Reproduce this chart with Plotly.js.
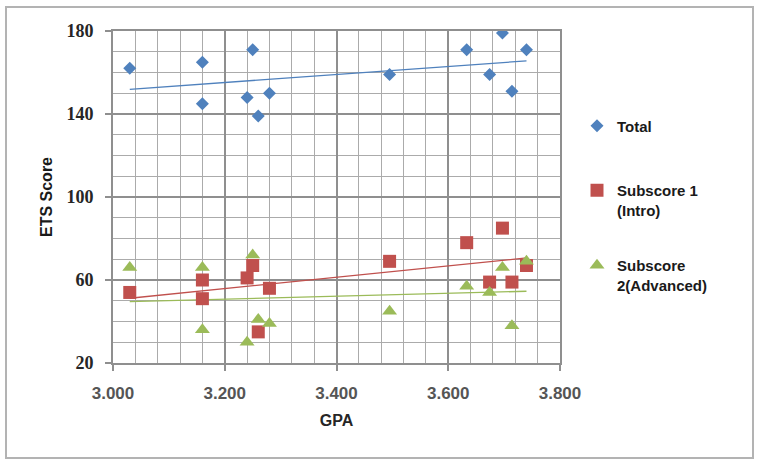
<!DOCTYPE html>
<html>
<head>
<meta charset="utf-8">
<script src="https://cdn.plot.ly/plotly-3.0.1.min.js"></script>
<style>
  html, body { margin: 0; padding: 0; background: #ffffff; }
  #chart { width: 759px; height: 460px; }
</style>
</head>
<body>
<div id="chart"></div>
<script>
// Student GPA and ETS scores (one entry per student)
const gpa      = [3.03, 3.16, 3.16, 3.25, 3.24, 3.26, 3.28, 3.495, 3.633, 3.697, 3.74, 3.674, 3.714];
const total    = [162, 165, 145, 171, 148, 139, 150, 159, 171, 179, 171, 159, 151];
const subIntro = [54, 60, 51, 67, 61, 35, 56, 69, 78, 85, 67, 59, 59];
const subAdv   = [66, 66, 36, 72, 30, 41, 39, 45, 57, 66, 69, 54, 38];

const seriesNames = ['Total', 'Subscore 1<br>(Intro)', 'Subscore<br>2(Advanced)'];

// Least-squares linear fit, evaluated at the ends of the GPA range
function trend(xs, ys) {
  const n = xs.length;
  const mx = xs.reduce((a, b) => a + b, 0) / n;
  const my = ys.reduce((a, b) => a + b, 0) / n;
  let sxy = 0, sxx = 0;
  for (let i = 0; i < n; i++) {
    sxy += (xs[i] - mx) * (ys[i] - my);
    sxx += (xs[i] - mx) * (xs[i] - mx);
  }
  const slope = sxy / sxx;
  const x0 = Math.min(...xs), x1 = Math.max(...xs);
  return { x: [x0, x1], y: [my + slope * (x0 - mx), my + slope * (x1 - mx)] };
}

const BLUE = '#4F81BD', RED = '#C0504D', GREEN = '#9BBB59';

const tTot = trend(gpa, total), tIntro = trend(gpa, subIntro), tAdv = trend(gpa, subAdv);

const traces = [
  { x: tTot.x, y: tTot.y, mode: 'lines', line: { color: BLUE, width: 1.3 }, showlegend: false, hoverinfo: 'skip' },
  { x: tIntro.x, y: tIntro.y, mode: 'lines', line: { color: RED, width: 1.3 }, showlegend: false, hoverinfo: 'skip' },
  { x: tAdv.x, y: tAdv.y, mode: 'lines', line: { color: GREEN, width: 1.3 }, showlegend: false, hoverinfo: 'skip' },
  { x: gpa, y: total, mode: 'markers', name: seriesNames[0], legend: 'legend',
    marker: { symbol: 'diamond', size: 10, color: BLUE, line: { width: 0 } } },
  { x: gpa, y: subIntro, mode: 'markers', name: seriesNames[1], legend: 'legend2',
    marker: { symbol: 'square', size: 13, color: RED, line: { width: 0 } } },
  { x: gpa, y: subAdv, mode: 'markers', name: seriesNames[2], legend: 'legend3',
    marker: { symbol: 'triangle-up', size: 13, color: GREEN, line: { width: 0 } } }
];

// plot-area geometry in pixels
const W = 759, H = 460, L = 113, R = 199, T = 31, B = 97;
const pw = W - L - R, ph = H - T - B;
const px = p => (p - L) / pw;
const py = p => (H - B - p) / ph;

const GRID_MAJOR = '#8f8f8f', GRID_MINOR = '#ababab';

const legendFont = { family: 'Liberation Sans, Arial, sans-serif', size: 15, color: '#1a1a1a', weight: 'bold' };
function legendAt(yPix) {
  return { x: px(577), y: py(yPix), xanchor: 'left', yanchor: 'middle', valign: 'top',
           bgcolor: 'rgba(0,0,0,0)', font: legendFont, borderwidth: 0 };
}

const layout = {
  width: W, height: H,
  margin: { l: L, r: R, t: T, b: B },
  paper_bgcolor: '#ffffff',
  plot_bgcolor: '#ffffff',
  showlegend: true,
  hovermode: false,
  legend: legendAt(126),
  legend2: legendAt(200),
  legend3: legendAt(275),
  xaxis: {
    range: [3.0, 3.8], tickmode: 'linear', dtick: 0.2, tick0: 3.0, tickformat: '.3f',
    showgrid: true, gridcolor: GRID_MAJOR, gridwidth: 2,
    minor: { tickmode: 'linear', tick0: 3.0, dtick: 0.04, showgrid: true, gridcolor: GRID_MINOR, gridwidth: 1 },
    showline: true, linecolor: GRID_MAJOR, linewidth: 2, mirror: true,
    ticks: 'outside', ticklen: 6, tickcolor: GRID_MAJOR, tickwidth: 2,
    ticklabelstandoff: 8,
    zeroline: false, fixedrange: true,
    tickfont: { family: 'Liberation Sans, Arial, sans-serif', size: 17, color: '#555555', weight: 'bold' },
    title: { text: 'GPA', standoff: 12,
             font: { family: 'Liberation Sans, Arial, sans-serif', size: 16, color: '#262626', weight: 'bold' } }
  },
  yaxis: {
    range: [20, 180], tickmode: 'linear', dtick: 40, tick0: 20,
    showgrid: true, gridcolor: GRID_MAJOR, gridwidth: 2,
    minor: { tickmode: 'linear', tick0: 20, dtick: 10, showgrid: true, gridcolor: GRID_MINOR, gridwidth: 1 },
    showline: true, linecolor: GRID_MAJOR, linewidth: 2, mirror: true,
    ticks: 'outside', ticklen: 6, tickcolor: GRID_MAJOR, tickwidth: 2,
    ticklabelstandoff: 8,
    zeroline: false, fixedrange: true,
    tickfont: { family: 'Liberation Serif, Times New Roman, serif', size: 18, color: '#262626', weight: 'bold' },
    title: { text: 'ETS Score', standoff: 10,
             font: { family: 'Liberation Sans, Arial, sans-serif', size: 16, color: '#1a1a1a', weight: 'bold' } }
  },
  shapes: [
    // outer chart frame
    { type: 'rect', xref: 'paper', yref: 'paper', layer: 'below',
      x0: px(6), x1: px(753), y0: py(458), y1: py(7),
      line: { color: '#b3b3b3', width: 2 }, fillcolor: 'rgba(0,0,0,0)' }
  ]
};

Plotly.newPlot('chart', traces, layout, { displayModeBar: false });
</script>
</body>
</html>
